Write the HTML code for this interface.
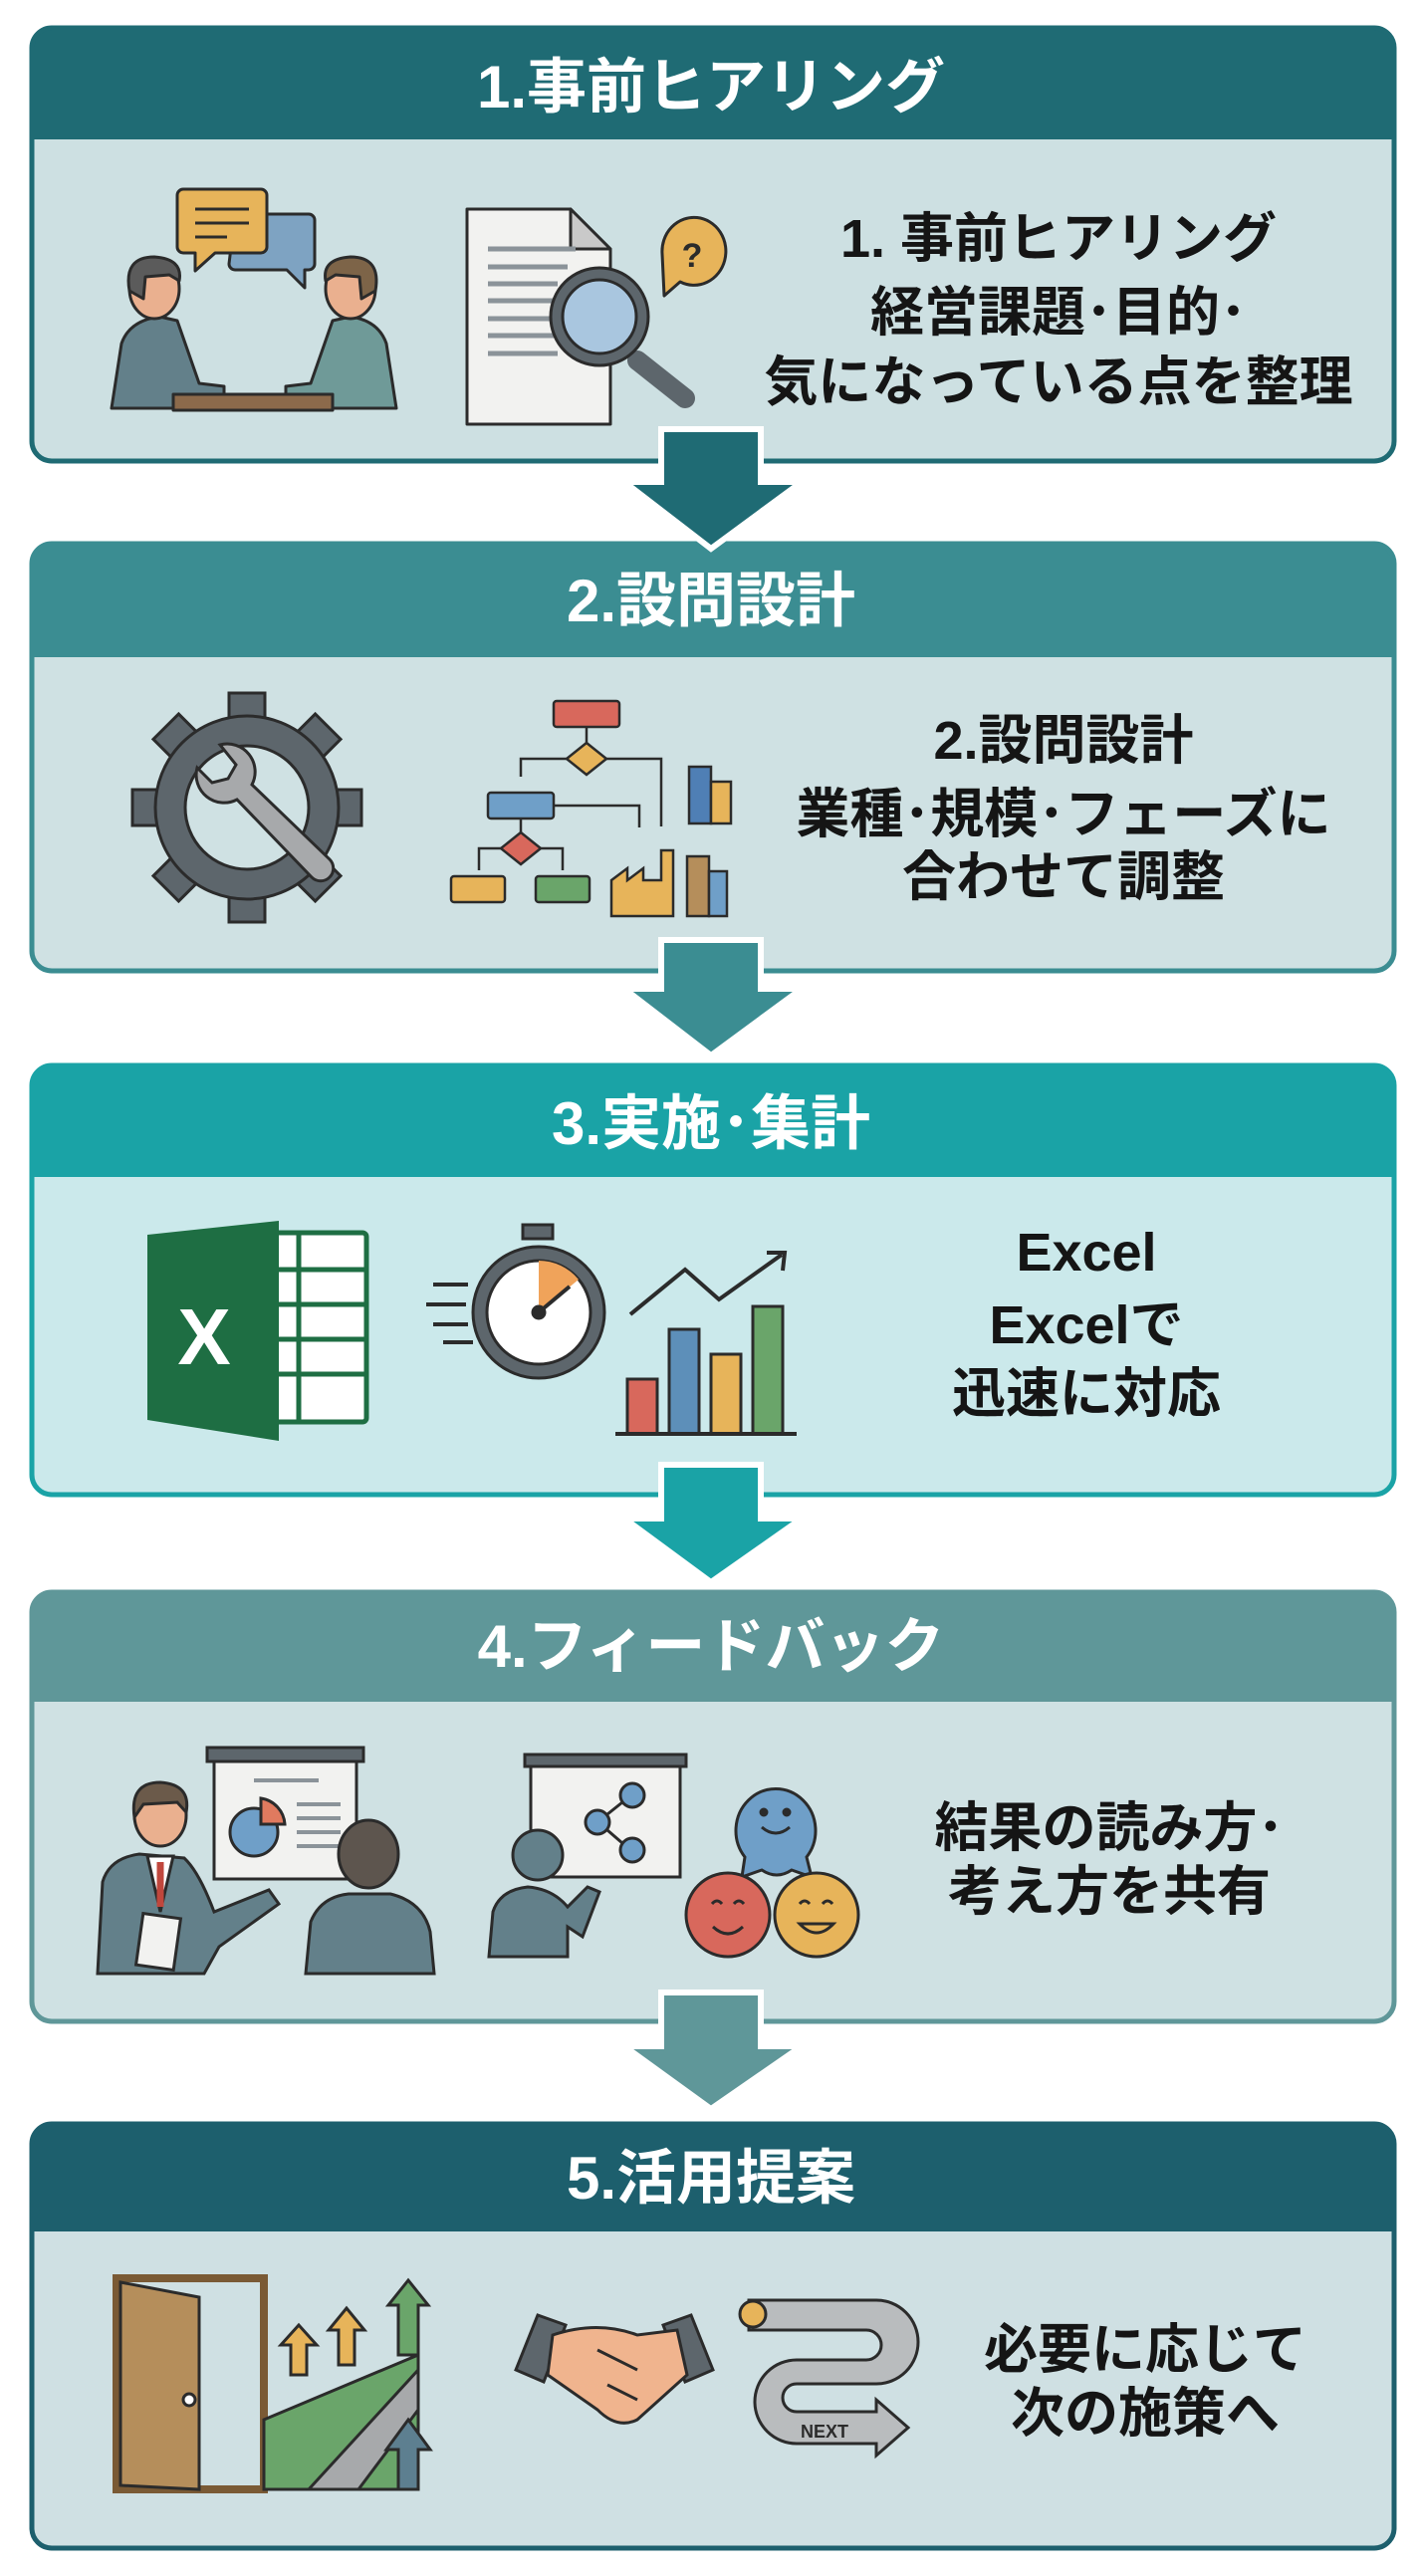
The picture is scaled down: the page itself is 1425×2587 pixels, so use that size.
<!DOCTYPE html>
<html><head><meta charset="utf-8"><style>
html,body{margin:0;padding:0;background:#fff;width:1425px;height:2587px;overflow:hidden}
svg{display:block}
.t{font-family:"Liberation Sans","Noto Sans CJK JP",sans-serif;font-weight:bold;text-anchor:middle}
.h{fill:#fff;font-size:60px}
.b{fill:#151515;font-size:54px}
</style></head><body>
<svg width="1425" height="2587" viewBox="0 0 1425 2587" xmlns="http://www.w3.org/2000/svg">
<defs>
<clipPath id="c1"><rect x="32" y="28" width="1368" height="435" rx="20"/></clipPath>
<clipPath id="c2"><rect x="32" y="546" width="1368" height="429" rx="20"/></clipPath>
<clipPath id="c3"><rect x="32" y="1070" width="1368" height="431" rx="20"/></clipPath>
<clipPath id="c4"><rect x="32" y="1599" width="1368" height="431" rx="20"/></clipPath>
<clipPath id="c5"><rect x="32" y="2133" width="1368" height="426" rx="20"/></clipPath>
</defs>

<!-- Box 1 -->
<rect x="32" y="28" width="1368" height="435" rx="20" fill="#cde0e2"/>
<rect x="32" y="28" width="1368" height="112" fill="#1f6b74" clip-path="url(#c1)"/>
<rect x="32" y="28" width="1368" height="435" rx="20" fill="none" stroke="#1f6b74" stroke-width="5"/>
<text class="t h" x="714" y="108">1.事前ヒアリング</text>
<text class="t b" x="1063" y="258">1. 事前ヒアリング</text>
<text class="t b" x="1063" y="332">経営課題･目的･</text>
<text class="t b" x="1063" y="402">気になっている点を整理</text>

<!-- Box 2 -->
<rect x="32" y="546" width="1368" height="429" rx="20" fill="#cfe1e3"/>
<rect x="32" y="546" width="1368" height="114" fill="#3b8d92" clip-path="url(#c2)"/>
<rect x="32" y="546" width="1368" height="429" rx="20" fill="none" stroke="#3b8d92" stroke-width="5"/>
<text class="t h" x="714" y="624">2.設問設計</text>
<text class="t b" x="1068" y="762">2.設問設計</text>
<text class="t b" x="1068" y="836">業種･規模･フェーズに</text>
<text class="t b" x="1068" y="899">合わせて調整</text>

<!-- Box 3 -->
<rect x="32" y="1070" width="1368" height="431" rx="20" fill="#cbe9eb"/>
<rect x="32" y="1070" width="1368" height="112" fill="#1aa3a6" clip-path="url(#c3)"/>
<rect x="32" y="1070" width="1368" height="431" rx="20" fill="none" stroke="#1aa3a6" stroke-width="5"/>
<text class="t h" x="714" y="1149">3.実施･集計</text>
<text class="t b" x="1091" y="1276">Excel</text>
<text class="t b" x="1091" y="1349">Excelで</text>
<text class="t b" x="1091" y="1418">迅速に対応</text>

<!-- Box 4 -->
<rect x="32" y="1599" width="1368" height="431" rx="20" fill="#cfe1e3"/>
<rect x="32" y="1599" width="1368" height="110" fill="#5f9799" clip-path="url(#c4)"/>
<rect x="32" y="1599" width="1368" height="431" rx="20" fill="none" stroke="#5f9799" stroke-width="5"/>
<text class="t h" x="714" y="1674">4.フィードバック</text>
<text class="t b" x="1114" y="1854">結果の読み方･</text>
<text class="t b" x="1114" y="1918">考え方を共有</text>

<!-- Box 5 -->
<rect x="32" y="2133" width="1368" height="426" rx="20" fill="#cfe0e3"/>
<rect x="32" y="2133" width="1368" height="108" fill="#1d5f6d" clip-path="url(#c5)"/>
<rect x="32" y="2133" width="1368" height="426" rx="20" fill="none" stroke="#1d5f6d" stroke-width="5"/>
<text class="t h" x="714" y="2208">5.活用提案</text>
<text class="t b" x="1150" y="2378">必要に応じて</text>
<text class="t b" x="1150" y="2442">次の施策へ</text>

<!-- Arrows -->
<g stroke="#fff" stroke-width="6" stroke-linejoin="miter">
<path d="M664 431 H764 V484 H805 L714 551 L627 484 H664 Z" fill="#1f6b74"/>
<path d="M664 944 H764 V993 H805 L714 1060 L627 993 H664 Z" fill="#3b8d92"/>
<path d="M664 1471 H764 V1525 H805 L714 1589 L627 1525 H664 Z" fill="#1aa3a6"/>
<path d="M664 2001 H764 V2055 H805 L714 2118 L627 2055 H664 Z" fill="#5f9799"/>
</g>

<!-- Icons box1: people -->
<g stroke="#2b2b2b" stroke-width="3" stroke-linejoin="round">
<path d="M236 215 h74 a6 6 0 0 1 6 6 v44 a6 6 0 0 1 -6 6 h-4 v18 l-18 -18 h-52 a6 6 0 0 1 -6 -6z" fill="#7ea3c2"/>
<path d="M184 190 h78 a6 6 0 0 1 6 6 v52 a6 6 0 0 1 -6 6 h-46 l-20 18 v-18 h-12 a6 6 0 0 1 -6 -6 v-52 a6 6 0 0 1 6 -6z" fill="#e7b45a"/>
<line x1="196" y1="210" x2="250" y2="210"/><line x1="196" y1="224" x2="250" y2="224"/><line x1="196" y1="238" x2="228" y2="238"/>
<path d="M112 410 L122 345 Q130 322 160 318 L178 322 L200 385 L225 388 L225 402 L205 405 L205 410Z" fill="#63808a"/>
<path d="M398 410 L388 345 Q380 322 352 318 L334 322 L312 385 L287 388 L287 402 L305 405 L305 410Z" fill="#6f9a98"/>
<ellipse cx="155" cy="290" rx="25" ry="30" fill="#eab08f"/>
<path d="M130 292 Q124 258 155 258 Q184 260 180 282 L170 276 L146 278 L144 300 Z" fill="#5b5b5b"/>
<ellipse cx="352" cy="290" rx="25" ry="30" fill="#eab08f"/>
<path d="M377 292 Q383 258 352 258 Q323 260 327 282 L337 276 L361 278 L363 300 Z" fill="#7d6448"/>
<rect x="174" y="396" width="160" height="16" fill="#8c6a4b"/>
</g>
<!-- doc + magnifier -->
<g stroke="#2b2b2b" stroke-width="3" stroke-linejoin="round">
<path d="M469 210 h104 l40 40 v176 h-144z" fill="#f2f2f0"/>
<path d="M573 210 v40 h40z" fill="#c9c9c9"/>
<g stroke="#8b9399" stroke-width="5"><line x1="490" y1="250" x2="578" y2="250"/><line x1="490" y1="268" x2="570" y2="268"/><line x1="490" y1="285" x2="560" y2="285"/><line x1="490" y1="302" x2="560" y2="302"/><line x1="490" y1="320" x2="560" y2="320"/><line x1="490" y1="337" x2="560" y2="337"/><line x1="490" y1="355" x2="560" y2="355"/></g>
<line x1="640" y1="362" x2="688" y2="400" stroke="#5d666c" stroke-width="20" stroke-linecap="round"/>
<circle cx="602" cy="318" r="49" fill="#5d666c"/><circle cx="602" cy="318" r="37" fill="#a9c6df"/>
<path d="M665 255 a32 34 0 1 1 18 28 l-16 14z" fill="#e7b45a"/>
<text x="695" y="268" style="font:bold 34px 'Liberation Sans',sans-serif" fill="#2b2b2b" stroke="none" text-anchor="middle">?</text>
</g>

<!-- box2 gear -->
<g transform="translate(248,811)">
<g fill="#5d666c" stroke="#2b2b2b" stroke-width="3">
<g id="teeth"><rect x="-18" y="-115" width="36" height="40"/><rect x="-18" y="75" width="36" height="40"/><rect x="-115" y="-18" width="40" height="36"/><rect x="75" y="-18" width="40" height="36"/></g>
<use href="#teeth" transform="rotate(45)"/>
<circle r="92"/>
</g>
<circle r="62" fill="#cfe1e3" stroke="#2b2b2b" stroke-width="3"/>
<path d="M-50 -40 a28 28 0 0 0 40 32 l75 78 a12 12 0 0 0 18 -18 l-78 -75 a28 28 0 0 0 -32 -40 l16 20 -8 14 -16 4z" fill="#a7a9ab" stroke="#2b2b2b" stroke-width="3"/>
</g>
<!-- flowchart -->
<g stroke="#2b2b2b" stroke-width="2.5">
<rect x="556" y="704" width="66" height="26" rx="3" fill="#d8685c"/>
<path d="M589 746 l20 16 -20 16 -20 -16z" fill="#e7b45a"/>
<line x1="589" y1="730" x2="589" y2="746"/>
<path d="M569 762 h-46 v18 M609 762 h55 v68" fill="none"/>
<rect x="490" y="796" width="66" height="26" rx="3" fill="#6f9fc8"/>
<path d="M556 809 h86 v22 M523 822 v14" fill="none"/>
<path d="M523 836 l20 16 -20 16 -20 -16z" fill="#d8685c"/>
<path d="M503 852 h-22 v22 M543 852 h22 v22" fill="none"/>
<rect x="453" y="880" width="54" height="26" rx="3" fill="#e7b45a"/>
<rect x="538" y="880" width="54" height="26" rx="3" fill="#6aa56a"/>
<rect x="692" y="770" width="22" height="57" fill="#4f7fb5"/><rect x="714" y="785" width="20" height="42" fill="#e7b45a"/>
<path d="M614 920 v-36 l16 -12 v12 l16 -12 v12 h18 v-30 h12 v66z" fill="#e7b45a"/>
<rect x="690" y="860" width="22" height="60" fill="#b58e5b"/><rect x="712" y="875" width="18" height="45" fill="#6f9fc8"/>
</g>

<!-- box3 excel -->
<g>
<rect x="240" y="1238" width="128" height="190" rx="4" fill="#fff" stroke="#1e6e43" stroke-width="5"/>
<g stroke="#1e6e43" stroke-width="5"><line x1="240" y1="1275" x2="368" y2="1275"/><line x1="240" y1="1310" x2="368" y2="1310"/><line x1="240" y1="1345" x2="368" y2="1345"/><line x1="240" y1="1380" x2="368" y2="1380"/><line x1="300" y1="1238" x2="300" y2="1428"/></g>
<path d="M148 1240 L280 1226 L280 1447 L148 1426z" fill="#1e6e43"/>
<text x="205" y="1370" style="font:bold 80px 'Liberation Sans',sans-serif" fill="#fff" text-anchor="middle">X</text>
</g>
<!-- stopwatch -->
<g stroke="#2b2b2b" stroke-width="3">
<rect x="525" y="1230" width="30" height="14" fill="#5d666c"/>
<circle cx="541" cy="1318" r="66" fill="#5d666c"/>
<circle cx="541" cy="1318" r="52" fill="#fff"/>
<path d="M541 1318 V1266 A52 52 0 0 1 581 1285 Z" fill="#f0a35a" stroke="none"/>
<line x1="541" y1="1318" x2="572" y2="1292" stroke-width="4"/>
<circle cx="541" cy="1318" r="6" fill="#2b2b2b"/>
<g stroke-width="4"><line x1="435" y1="1290" x2="470" y2="1290"/><line x1="428" y1="1310" x2="468" y2="1310"/><line x1="435" y1="1330" x2="470" y2="1330"/><line x1="445" y1="1348" x2="475" y2="1348"/></g>
</g>
<!-- chart -->
<g stroke="#2b2b2b" stroke-width="3">
<rect x="630" y="1385" width="30" height="55" fill="#d8685c"/>
<rect x="672" y="1335" width="30" height="105" fill="#5d8fb9"/>
<rect x="714" y="1360" width="30" height="80" fill="#e7b45a"/>
<rect x="756" y="1312" width="30" height="128" fill="#6aa56a"/>
<line x1="618" y1="1440" x2="800" y2="1440" stroke-width="4"/>
<path d="M633 1320 L688 1275 L722 1305 L785 1260" fill="none" stroke-width="4"/>
<path d="M770 1258 L788 1258 L786 1276" fill="none" stroke-width="4"/>
</g>

<!-- box4 presenter -->
<g stroke="#2b2b2b" stroke-width="3">
<rect x="208" y="1755" width="157" height="14" fill="#5d666c"/>
<rect x="215" y="1769" width="143" height="118" fill="#f2f2f0"/>
<circle cx="255" cy="1840" r="24" fill="#6f9fc8"/>
<path d="M262 1832 V1806 A28 28 0 0 1 286 1832Z" fill="#e07a5f"/>
<g stroke="#8b9399" stroke-width="4"><line x1="255" y1="1788" x2="320" y2="1788"/><line x1="298" y1="1812" x2="342" y2="1812"/><line x1="298" y1="1826" x2="342" y2="1826"/><line x1="298" y1="1840" x2="342" y2="1840"/><line x1="298" y1="1854" x2="342" y2="1854"/></g>
<path d="M98 1982 L103 1890 Q110 1866 140 1862 L185 1866 Q200 1880 215 1920 L270 1898 L280 1912 L220 1955 L205 1982Z" fill="#63808a"/>
<path d="M148 1864 L161 1920 L174 1864z" fill="#fff"/>
<path d="M161 1870 L161 1915" stroke="#c0473d" stroke-width="7"/>
<rect x="140" y="1924" width="38" height="52" fill="#f2f2f0" transform="rotate(8 159 1950)"/>
<ellipse cx="161" cy="1823" rx="26" ry="31" fill="#eab08f"/>
<path d="M135 1825 Q130 1790 161 1790 Q192 1792 187 1820 L178 1810 L144 1812z" fill="#6b5a4a"/>
<path d="M307 1982 L312 1930 Q322 1905 350 1902 L392 1902 Q425 1910 432 1940 L436 1982z" fill="#63808a"/>
<ellipse cx="370" cy="1862" rx="30" ry="34" fill="#5d554e"/>
</g>
<!-- board share -->
<g stroke="#2b2b2b" stroke-width="3">
<rect x="527" y="1762" width="162" height="12" fill="#5d666c"/>
<rect x="533" y="1774" width="150" height="111" fill="#f2f2f0"/>
<g fill="#6f9fc8"><circle cx="635" cy="1803" r="12"/><circle cx="600" cy="1830" r="12"/><circle cx="635" cy="1858" r="12"/></g>
<path d="M610 1822 L625 1810 M610 1838 L625 1851"/>
<path d="M491 1965 L495 1920 Q502 1898 530 1895 Q555 1897 570 1915 L590 1895 L602 1900 L585 1945 L570 1935 L570 1965z" fill="#63808a"/>
<circle cx="540" cy="1863" r="25" fill="#63808a"/>
<path d="M748 1865 A40 42 0 1 1 810 1865 L815 1885 L795 1878 Q780 1888 765 1878 L745 1885z" fill="#6f9fc8"/>
<circle cx="731" cy="1923" r="42" fill="#d8685c"/>
<circle cx="820" cy="1923" r="42" fill="#e7b45a"/>
<circle cx="767" cy="1820" r="3" fill="#2b2b2b"/><circle cx="790" cy="1820" r="3" fill="#2b2b2b"/>
<path d="M765 1835 q14 12 28 0 M716 1935 q15 14 30 0 M803 1932 q17 18 34 0z M715 1912 q5 -6 10 0 M737 1912 q5 -6 10 0 M803 1912 q5 -6 10 0 M826 1912 q5 -6 10 0" fill="none"/>
</g>

<!-- box5 door -->
<g stroke="#2b2b2b" stroke-width="3">
<rect x="117" y="2288" width="148" height="212" fill="none" stroke="#7a5a35" stroke-width="8"/>
<path d="M121 2292 L200 2307 V2500 L121 2496z" fill="#b58e5b"/>
<circle cx="190" cy="2410" r="6" fill="#fff"/>
<path d="M265 2430 L420 2365 V2500 H265z" fill="#6aa56a"/>
<path d="M310 2500 L420 2380 L420 2420 L360 2500z" fill="#a7a9ab"/>
<path d="M292 2385 V2355 H282 L300 2335 L318 2355 H308 V2385z" fill="#e7b45a"/>
<path d="M340 2375 V2340 H330 L348 2318 L366 2340 H356 V2375z" fill="#e7b45a"/>
<path d="M400 2365 V2315 H390 L410 2290 L430 2315 H420 V2365z" fill="#6aa56a"/>
<path d="M400 2500 V2460 H388 L410 2430 L432 2460 H420 V2500z" fill="#5d7f90"/>
</g>
<!-- handshake -->
<g stroke="#2b2b2b" stroke-width="3">
<path d="M518 2380 L540 2325 L568 2335 L546 2392z" fill="#5d666c"/>
<path d="M716 2380 L694 2325 L666 2335 L688 2392z" fill="#5d666c"/>
<path d="M555 2345 Q600 2330 640 2345 L680 2340 L690 2385 L640 2430 Q620 2440 600 2420 L550 2385z" fill="#f0b48e"/>
<path d="M600 2360 L640 2380 M610 2395 L640 2410" fill="none"/>
</g>
<!-- road -->
<g stroke="#2b2b2b" stroke-width="3">
<path d="M752 2310 H880 A42 42 0 0 1 880 2394 H800 A14 14 0 0 0 800 2422 H880 V2410 L912 2438 L880 2466 V2454 H800 A42 42 0 0 1 800 2370 H870 A14 14 0 0 0 870 2340 H752z" fill="#b9bcbe"/>
<circle cx="756" cy="2324" r="13" fill="#e7b45a"/>
<text x="828" y="2448" style="font:bold 18px 'Liberation Sans',sans-serif" fill="#2b2b2b" stroke="none" text-anchor="middle">NEXT</text>
</g>
</svg>
</body></html>
